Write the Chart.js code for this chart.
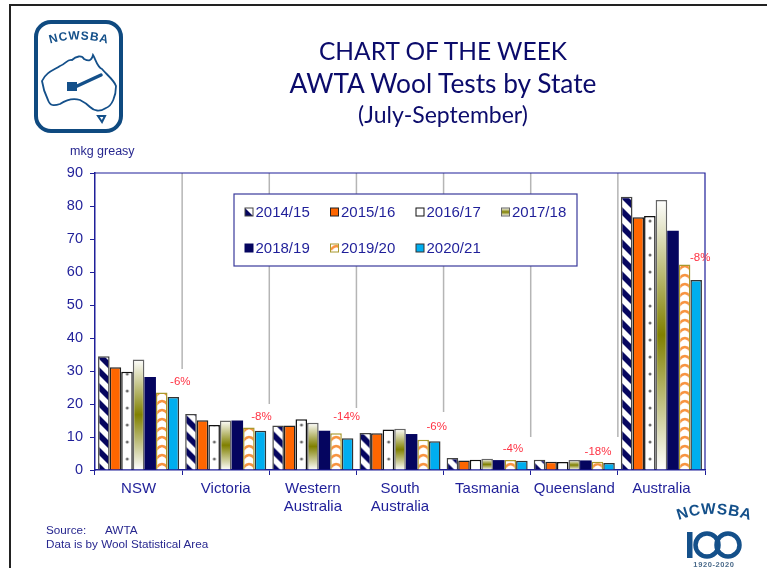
<!DOCTYPE html>
<html>
<head>
<meta charset="utf-8">
<title>AWTA Wool Tests by State</title>
<script src="https://cdn.jsdelivr.net/npm/chart.js@4"></script>
<style>
    body { margin: 0; background: #fff; overflow: hidden; }
    #page { position: relative; width: 767px; height: 568px; font-family: "Liberation Sans", Arial, sans-serif; }
    #frame { position: absolute; left: 9px; top: 4px; width: 756px; height: 570px; border: 2px solid #222; border-right: 1px solid #aaa; }
    #chart { position: absolute; left: 0; top: 0; }
    .txt { position: absolute; white-space: pre; }
    .head { left: 120px; width: 646px; text-align: center; color: #0b0b6b; font-family: Lato, "Open Sans", sans-serif; }
    .note { color: #27278f; font-size: 11.7px; }
    svg { position: absolute; }
</style>
</head>
<body>
<div id="page">
    <div id="frame"></div>
    <canvas id="chart" width="767" height="568"></canvas>

    <div class="txt head" style="top:36px;font-size:24.5px;">CHART OF THE WEEK</div>
    <div class="txt head" style="top:67px;font-size:26.3px;">AWTA Wool Tests by State</div>
    <div class="txt head" style="top:100px;font-size:23px;">(July-September)</div>
    <div class="txt note" style="left:70px;top:144px;font-size:12.5px;">mkg greasy</div>
    <div class="txt note" style="left:46px;top:523px;">Source:</div>
    <div class="txt note" style="left:105px;top:523px;">AWTA</div>
    <div class="txt note" style="left:46px;top:537px;">Data is by Wool Statistical Area</div>

    <!-- logo top left -->
    <svg style="left:30px;top:18px;" width="98" height="120" viewBox="0 0 98 120">
        <rect x="6" y="4" width="85" height="109" rx="15" fill="#fff" stroke="#0f4a80" stroke-width="4"/>
        <path id="arcTop" d="M16 27 Q48 16 82 27" fill="none"/>
        <text font-family="Liberation Sans" font-weight="bold" font-size="12" fill="#14508a" letter-spacing="0.8">
            <textPath href="#arcTop" startOffset="50%" text-anchor="middle">NCWSBA</textPath>
        </text>
        <path d="M12 63 C16 54 24 52 30 48 C36 46 37 41 42 42 C46 38 52 37 54 41 C58 43 61 44 63 37 C66 42 67 49 72 51 C77 57 84 62 86 68 C86 78 82 88 76 90 C70 94 64 93 60 89 C56 85 52 83 50 82 C44 80 36 82 30 86 C24 88 20 88 18 82 C15 76 13 70 12 63 Z" fill="none" stroke="#14508a" stroke-width="1.8"/>
        <path d="M71 57 L45 69" stroke="#14508a" stroke-width="3.5" stroke-linecap="round"/>
        <rect x="37" y="64" width="10" height="9" fill="#14508a"/>
        <path d="M68 98 L75 98 L72 104 Z" fill="none" stroke="#14508a" stroke-width="2"/>
    </svg>

    <!-- centenary logo bottom right -->
    <svg style="left:665px;top:495px;" width="100" height="73" viewBox="0 0 100 73">
        <path id="arcBottom" d="M9 27 Q46 11 90 27" fill="none"/>
        <text font-family="Liberation Sans" font-weight="bold" font-size="15.5" fill="#14508a" letter-spacing="0.6">
            <textPath href="#arcBottom" startOffset="50%" text-anchor="middle">NCWSBA</textPath>
        </text>
        <rect x="22" y="37" width="5.5" height="26" fill="#14508a"/>
        <circle cx="42" cy="50" r="11.5" fill="none" stroke="#14508a" stroke-width="4.5"/>
        <circle cx="63" cy="50" r="11.5" fill="none" stroke="#14508a" stroke-width="4.5"/>
        <text x="49" y="72" text-anchor="middle" font-family="Liberation Sans" font-weight="bold" font-size="7.5" fill="#4a6a8a" letter-spacing="0.6">1920-2020</text>
    </svg>
</div>

<script>
// Du lieu doc tu hinh
const categories = [['NSW'], ['Victoria'], ['Western', 'Australia'], ['South', 'Australia'], ['Tasmania'], ['Queensland'], ['Australia']];
const seasons = ['2014/15', '2015/16', '2016/17', '2017/18', '2018/19', '2019/20', '2020/21'];
const values1415 = [34.5, 17.0, 13.5, 11.2, 3.6, 3.1, 82.8];
const values1516 = [31.1, 15.1, 13.5, 11.1, 2.9, 2.5, 76.6];
const values1617 = [29.8, 13.6, 15.4, 12.3, 3.1, 2.4, 77.0];
const values1718 = [33.5, 15.0, 14.3, 12.5, 3.4, 3.0, 81.8];
const values1819 = [28.2, 15.0, 11.9, 10.9, 3.0, 2.9, 72.5];
const values1920 = [23.5, 12.9, 11.1, 9.2, 3.0, 2.5, 62.3];
const values2021 = [22.1, 11.9, 9.6, 8.7, 2.8, 2.1, 57.6];
const changeLabels = ['-6%', '-8%', '-14%', '-6%', '-4%', '-18%', '-8%'];
const yTicks = [0, 10, 20, 30, 40, 50, 60, 70, 80, 90];

// Vi tri nhan % va duong ke doc (pixel so voi dinh cot cuoi)
const changeNudge = [[7, -15], [1, -14], [-1, -21], [2, -14], [-9, -12], [-11, -11], [4, -22]];
const dividerEnds = [369, 404, 408, 412, 437, 437];

const NAVY = '#1f1f99';
const seriesValues = [values1415, values1516, values1617, values1718, values1819, values1920, values2021];
const borders = ['#444', '#222', '#111', '#666', '#05055f', '#a8982c', '#333'];
const CAT_PCT = 0.93;

// Tao o mau cho pattern
function makeTile(w, h, draw) {
    const c = document.createElement('canvas');
    c.width = w; c.height = h;
    const t = c.getContext('2d');
    t.fillStyle = '#fff';
    t.fillRect(0, 0, w, h);
    draw(t);
    return c;
}

const tiles = {
    0: makeTile(16, 16, t => {
        t.fillStyle = '#05055f';
        [-16, 0, 16].forEach(o => {
            t.beginPath();
            t.moveTo(o, 0); t.lineTo(o + 8, 0); t.lineTo(o + 24, 16); t.lineTo(o + 16, 16);
            t.closePath();
            t.fill();
        });
    }),
    2: makeTile(12, 17, t => {
        t.fillStyle = '#666';
        t.beginPath();
        t.arc(6, 6, 1.5, 0, Math.PI * 2);
        t.fill();
    }),
    5: makeTile(12, 9, t => {
        t.strokeStyle = '#f8933f';
        t.lineWidth = 2.4;
        t.beginPath();
        t.moveTo(0, 7);
        t.quadraticCurveTo(6, -1, 12, 7);
        t.stroke();
    })
};

// Mau nen cua tung cot, neo theo vi tri cot
function fillFor(ctx, ds, left, top, bottom) {
    if (ds === 1) return '#ff6600';
    if (ds === 4) return '#05055f';
    if (ds === 6) return '#00aeef';
    if (ds === 3) {
        const g = ctx.createLinearGradient(0, top, 0, bottom);
        g.addColorStop(0, '#ffffff');
        g.addColorStop(0.5, '#808000');
        g.addColorStop(1, '#ffffff');
        return g;
    }
    const p = ctx.createPattern(tiles[ds], 'repeat');
    p.setTransform(new DOMMatrix().translate(left, bottom));
    return p;
}

function barFill(context) {
    const chart = context.chart;
    const x = chart.scales.x, y = chart.scales.y;
    if (!chart.chartArea || context.dataIndex === undefined) return '#fff';
    const ds = context.datasetIndex;
    const barW = x.width / categories.length * CAT_PCT / seasons.length;
    const left = x.getPixelForValue(context.dataIndex) + (ds - seasons.length / 2) * barW;
    const top = y.getPixelForValue(seriesValues[ds][context.dataIndex]);
    return fillFor(chart.ctx, ds, left, top, y.getPixelForValue(0));
}

const datasets = seasons.map((s, i) => ({
    label: s,
    data: seriesValues[i],
    backgroundColor: barFill,
    borderColor: borders[i],
    borderWidth: i === 4 ? 0 : 1.5,
    borderSkipped: 'bottom',
    barPercentage: 1,
    categoryPercentage: CAT_PCT
}));

// Duong ke doc + khung phai/tren, ve truoc cot
const framePlugin = {
    id: 'frameLines',
    beforeDatasetsDraw(chart) {
        const { ctx, chartArea: a, scales: { x } } = chart;
        const step = x.width / categories.length;
        ctx.save();
        ctx.strokeStyle = '#b5b5b5';
        ctx.lineWidth = 1.5;
        dividerEnds.forEach((end, i) => {
            const px = a.left + step * (i + 1);
            ctx.beginPath();
            ctx.moveTo(px, a.top);
            ctx.lineTo(px, end);
            ctx.stroke();
        });
        ctx.strokeStyle = NAVY;
        ctx.lineWidth = 1.2;
        ctx.beginPath();
        ctx.moveTo(a.left, a.top);
        ctx.lineTo(a.right, a.top);
        ctx.lineTo(a.right, a.bottom);
        ctx.stroke();
        ctx.restore();
    }
};

// Nhan % do va legend dang hop
const overlayPlugin = {
    id: 'overlay',
    afterDatasetsDraw(chart) {
        const { ctx } = chart;
        const lastBars = chart.getDatasetMeta(seasons.length - 1).data;
        ctx.save();
        ctx.font = '11.5px "Liberation Sans"';
        ctx.fillStyle = '#ff3344';
        ctx.textAlign = 'center';
        ctx.textBaseline = 'middle';
        changeLabels.forEach((t, i) => {
            ctx.fillText(t, lastBars[i].x + changeNudge[i][0], lastBars[i].y + changeNudge[i][1]);
        });

        ctx.fillStyle = '#fff';
        ctx.strokeStyle = '#3a3a9c';
        ctx.lineWidth = 1.2;
        ctx.fillRect(234, 194, 343, 72);
        ctx.strokeRect(234, 194, 343, 72);
        ctx.font = '15px "Liberation Sans"';
        ctx.textAlign = 'left';
        seasons.forEach((s, i) => {
            const lx = 245 + (i % 4) * 85.5;
            const ly = i < 4 ? 212 : 248;
            ctx.fillStyle = fillFor(ctx, i, lx, ly - 4, ly + 4);
            ctx.fillRect(lx, ly - 4, 8, 8);
            ctx.strokeStyle = i === 4 ? '#05055f' : borders[i];
            ctx.lineWidth = 1;
            ctx.strokeRect(lx, ly - 4, 8, 8);
            ctx.fillStyle = NAVY;
            ctx.fillText(s, lx + 10.5, ly + 0.5);
        });
        ctx.restore();
    }
};

new Chart(document.getElementById('chart').getContext('2d'), {
    type: 'bar',
    data: { labels: categories, datasets: datasets },
    plugins: [framePlugin, overlayPlugin],
    options: {
        responsive: false,
        animation: false,
        layout: { padding: { top: 173, right: 62, left: 0, bottom: 0 } },
        plugins: { legend: { display: false }, tooltip: { enabled: false } },
        scales: {
            x: {
                offset: true,
                afterFit(scale) { scale.height = 98; },
                grid: { offset: true, drawOnChartArea: false, color: NAVY, tickLength: 5 },
                border: { color: NAVY, width: 1.5 },
                ticks: { color: NAVY, font: { family: 'Liberation Sans', size: 15 }, padding: 5, maxRotation: 0, autoSkip: false }
            },
            y: {
                min: 0,
                max: 90,
                afterFit(scale) { scale.width = 95; },
                afterBuildTicks(scale) { scale.ticks = yTicks.map(v => ({ value: v })); },
                grid: { drawOnChartArea: false, color: NAVY, tickLength: 5 },
                border: { color: NAVY, width: 1.5 },
                ticks: { color: NAVY, font: { family: 'Liberation Sans', size: 14.5 }, padding: 7 }
            }
        }
    }
});
</script>
</body>
</html>
